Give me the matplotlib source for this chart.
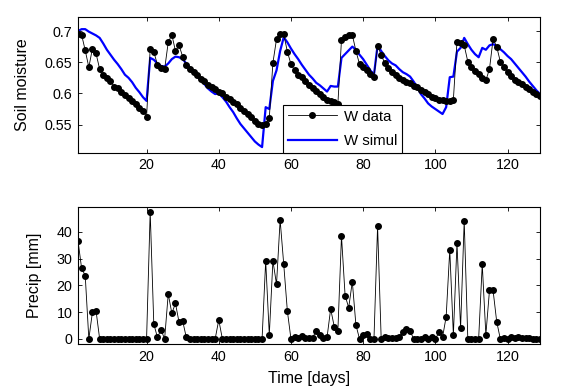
import matplotlib
matplotlib.use("Agg")
import matplotlib.pyplot as plt
from matplotlib.ticker import FuncFormatter
import numpy as np

days = list(range(1, 130))

w_data = [0.696, 0.694, 0.669, 0.642, 0.672, 0.664, 0.639, 0.630, 0.624, 0.620,
          0.611, 0.609, 0.603, 0.598, 0.593, 0.588, 0.583, 0.577, 0.572, 0.563,
          0.671, 0.667, 0.646, 0.641, 0.639, 0.682, 0.694, 0.668, 0.677, 0.659,
          0.645, 0.639, 0.634, 0.629, 0.623, 0.620, 0.614, 0.611, 0.607, 0.603,
          0.600, 0.595, 0.591, 0.587, 0.583, 0.577, 0.572, 0.567, 0.562, 0.556,
          0.551, 0.550, 0.551, 0.561, 0.649, 0.687, 0.695, 0.695, 0.667, 0.647,
          0.637, 0.630, 0.626, 0.620, 0.614, 0.608, 0.604, 0.599, 0.594, 0.590,
          0.588, 0.586, 0.583, 0.686, 0.691, 0.693, 0.694, 0.668, 0.647, 0.642,
          0.637, 0.631, 0.627, 0.676, 0.662, 0.648, 0.640, 0.635, 0.629, 0.625,
          0.622, 0.619, 0.616, 0.612, 0.610, 0.606, 0.602, 0.599, 0.595, 0.592,
          0.590, 0.589, 0.588, 0.588, 0.590, 0.683, 0.681, 0.677, 0.651, 0.642,
          0.636, 0.631, 0.624, 0.621, 0.639, 0.687, 0.675, 0.651, 0.642, 0.635,
          0.628, 0.622, 0.618, 0.615, 0.611, 0.607, 0.603, 0.599, 0.596]

w_simul = [0.700, 0.703, 0.703, 0.699, 0.696, 0.693, 0.689, 0.680, 0.670, 0.662,
           0.654, 0.647, 0.639, 0.630, 0.625, 0.618, 0.609, 0.602, 0.594, 0.588,
           0.657, 0.654, 0.648, 0.644, 0.643, 0.648, 0.655, 0.659, 0.658, 0.655,
           0.648, 0.641, 0.634, 0.628, 0.622, 0.615, 0.608, 0.603, 0.599, 0.600,
           0.594, 0.587, 0.578, 0.570, 0.560, 0.551, 0.544, 0.537, 0.530, 0.523,
           0.518, 0.514, 0.578, 0.575, 0.620, 0.637, 0.668, 0.690, 0.682, 0.672,
           0.663, 0.655, 0.646, 0.638, 0.630, 0.624, 0.617, 0.613, 0.608, 0.603,
           0.612, 0.611, 0.611, 0.657, 0.663, 0.669, 0.675, 0.670, 0.662, 0.655,
           0.646, 0.637, 0.630, 0.677, 0.668, 0.660, 0.653, 0.648, 0.645, 0.639,
           0.634, 0.631, 0.627, 0.619, 0.610, 0.599, 0.592, 0.584, 0.579, 0.575,
           0.571, 0.567, 0.578, 0.626, 0.627, 0.667, 0.673, 0.689, 0.679, 0.670,
           0.663, 0.658, 0.673, 0.670, 0.677, 0.679, 0.676, 0.671, 0.666, 0.660,
           0.655, 0.648, 0.641, 0.634, 0.627, 0.619, 0.612, 0.605, 0.599]

precip = [36.7, 26.4, 23.7, 0, 10, 10.5, 0, 0, 0, 0,
          0, 0, 0, 0, 0, 0, 0, 0, 0, 0,
          47.6, 5.6, 0.6, 3.4, 0, 16.8, 9.6, 13.3, 6.2, 6.7,
          0.6, 0, 0, 0, 0, 0, 0, 0, 0, 7.1,
          0, 0, 0, 0, 0, 0, 0, 0, 0, 0,
          0, 0, 29.2, 1.5, 29.2, 20.4, 44.5, 27.9, 10.5, 0,
          0.8, 0.3, 1.0, 0.5, 0.5, 0.5, 3, 1.3, 0.3, 0.6,
          11.2, 4.6, 3, 38.5, 16.2, 11.7, 21.4, 5.2, 0, 1.5,
          1.9, 0, 0, 42.2, 0, 0.9, 0.3, 0.5, 0.5, 0.9,
          2.4, 3.6, 3, 0, 0, 0, 0.6, 0, 0.6, 0,
          2.4, 0.6, 8.3, 33.3, 1.5, 35.8, 4, 44.2, 0, 0,
          0, 0, 27.9, 1.5, 18.1, 18.1, 6.5, 0, 0.3, 0,
          0.6, 0.3, 0.9, 0.3, 0.3, 0.3, 0, 0, 0]

x_ticks = [20, 40, 60, 80, 100, 120]
sm_ticks = [0.55, 0.6, 0.65, 0.7]
p_ticks = [0, 10, 20, 30, 40]

plt.rcParams['font.family'] = ['Liberation Sans', 'DejaVu Sans']
plt.rcParams['font.size'] = 10

W, H = 563, 392
fig = plt.figure(figsize=(W / 100, H / 100), dpi=100)

def frac(l, t, r, b):
    return [l / W, 1 - b / H, (r - l) / W, (b - t) / H]

ax1 = fig.add_axes(frac(78, 17, 540, 152.7))
ax2 = fig.add_axes(frac(78, 207.3, 540, 344))

ax1.plot(days, w_data, '-', color='black', lw=0.6, marker='o', ms=4.0,
         mfc='black', mec='black', label='W data', zorder=3)
ax1.plot(days, w_simul, '-', color='#0000ff', lw=1.6, label='W simul', zorder=2)
ax1.set_xlim(1, 129)
ax1.set_ylim(0.505, 0.7225)
ax1.set_xticks(x_ticks)
ax1.set_yticks(sm_ticks)
ax1.yaxis.set_major_formatter(FuncFormatter(lambda v, p: '%g' % v))
ax1.set_ylabel('Soil moisture', fontsize=11.5)
ax1.yaxis.set_label_coords(-0.104, 0.5)
leg = ax1.legend(loc='lower left', bbox_to_anchor=(0.444, 0.0), borderaxespad=0,
                 fancybox=False, edgecolor='black', framealpha=1, handlelength=3.3,
                 handletextpad=0.45, labelspacing=0.7, borderpad=0.3, numpoints=1,
                 fontsize=10.8)
leg.get_frame().set_linewidth(0.8)

ax2.plot(days, precip, '-', color='black', lw=0.6, marker='o', ms=4.0,
         mfc='black', mec='black')
ax2.set_xlim(1, 129)
ax2.set_ylim(-1.9, 49.2)
ax2.set_xticks(x_ticks)
ax2.set_yticks(p_ticks)
ax2.set_ylabel('Precip [mm]', fontsize=11.5)
ax2.yaxis.set_label_coords(-0.079, 0.5)
ax2.set_xlabel('Time [days]', fontsize=11.5)
ax2.xaxis.set_label_coords(0.5, -0.2)

for ax in (ax1, ax2):
    ax.tick_params(direction='in', top=True, right=True, length=3, width=0.6,
                   labelsize=10.3, pad=4)
    for s in ax.spines.values():
        s.set_linewidth(0.8)

fig.savefig('out.png', dpi=100)
